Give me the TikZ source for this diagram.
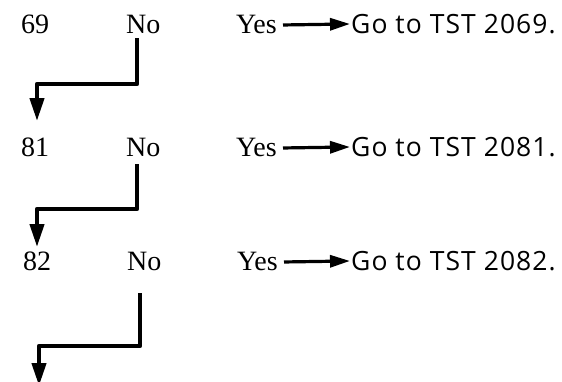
\documentclass[tikz,border=0pt]{standalone}
\usepackage{fontspec}
\setmainfont{Liberation Serif}
\newfontfamily\gofont[LetterSpace=4]{Open Sans}
\usetikzlibrary{arrows.meta}
\begin{document}
\begin{tikzpicture}[x=1pt,y=1pt,
  lbl/.style={inner sep=0pt,font=\fontsize{28}{32}\selectfont},
  golbl/.style={inner sep=0pt,font=\gofont\fontsize{26.5}{30}\selectfont},
  yesarrow/.style={line width=3.2pt,-{Triangle[length=20pt,width=12pt]}},
  noarrow/.style={line width=4.2pt,line join=round,-{Triangle[length=23pt,width=14pt]}}]
\useasboundingbox (0,0) rectangle (562,-381);
% row 1
\node[lbl,anchor=base west] (n69) at (21,-33) {69};
\node[lbl,anchor=base west] (no1) at (126,-33) {No};
\node[lbl,anchor=base east] (yes1) at (277,-33) {Yes};
\node[golbl,anchor=base west] (go1) at (351,-33) {Go to TST 2069.};
\draw[yesarrow] ([xshift=6pt,yshift=-1pt]yes1.east) -- ([xshift=-1pt]yes1.east -| go1.west);
% row 2
\node[lbl,anchor=base west] (n81) at (21,-156) {81};
\node[lbl,anchor=base west] (no2) at (126,-156) {No};
\node[lbl,anchor=base east] (yes2) at (277,-156) {Yes};
\node[golbl,anchor=base west] (go2) at (351,-156) {Go to TST 2081.};
\draw[yesarrow] ([xshift=6pt,yshift=-1pt]yes2.east) -- ([xshift=-1pt]yes2.east -| go2.west);
% row 3
\node[lbl,anchor=base west] (n82) at (23,-270) {82};
\node[lbl,anchor=base west] (no3) at (127,-270) {No};
\node[lbl,anchor=base east] (yes3) at (278,-270) {Yes};
\node[golbl,anchor=base west] (go3) at (351,-270) {Go to TST 2082.};
\draw[yesarrow] ([xshift=6pt,yshift=-1pt]yes3.east) -- ([xshift=-1pt]yes3.east -| go3.west);
% down connectors
\coordinate (s1) at (137,-38);
\coordinate (c1) at (137,-84);
\coordinate (t1) at (37,-121);
\draw[noarrow] (s1) -- (c1) -| (t1);
\coordinate (s2) at (137,-164);
\coordinate (c2) at (137,-209);
\coordinate (t2) at (37,-247);
\draw[noarrow] (s2) -- (c2) -| (t2);
\coordinate (s3) at (140,-293);
\coordinate (c3) at (140,-346);
\coordinate (t3) at (39,-386);
\draw[noarrow] (s3) -- (c3) -| (t3);
\end{tikzpicture}
\end{document}
